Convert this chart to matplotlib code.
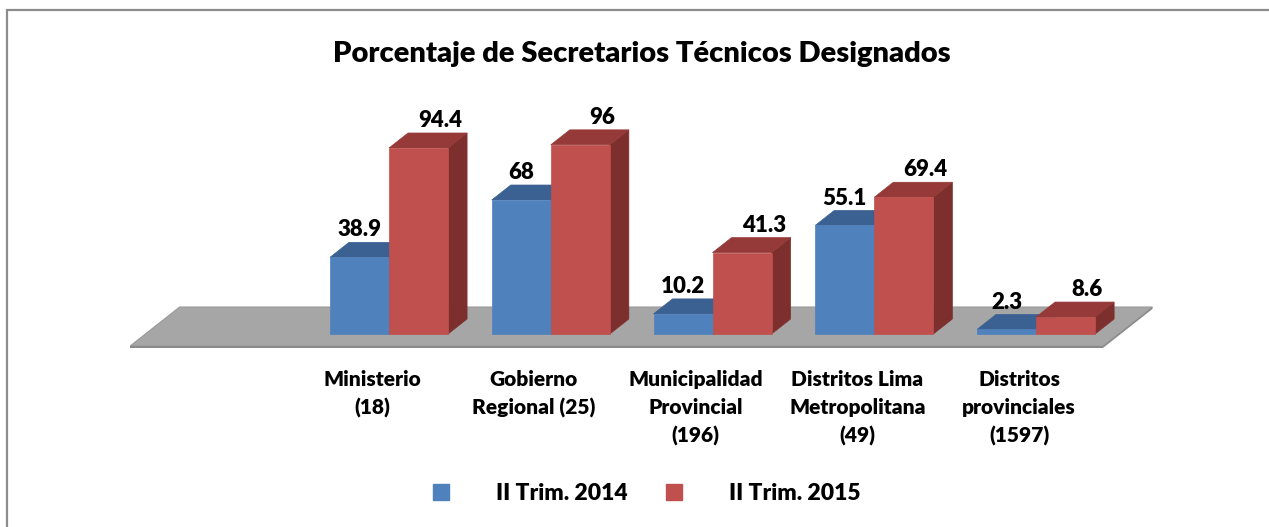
import matplotlib.pyplot as plt
from matplotlib.patches import Polygon, Rectangle
from matplotlib.lines import Line2D

# Data
categories = ["Ministerio\n(18)", "Gobierno\nRegional (25)", "Municipalidad\nProvincial\n(196)",
              "Distritos Lima\nMetropolitana\n(49)", "Distritos\nprovinciales\n(1597)"]
trim_2014 = [38.9, 68, 10.2, 55.1, 2.3]
trim_2015 = [94.4, 96, 41.3, 69.4, 8.6]
series_names = ["II Trim. 2014", "II Trim. 2015"]

plt.rcParams['font.family'] = ['Lato', 'DejaVu Sans']
WEIGHT = 'heavy'

# face colours: front, top, side
blue = ('#4f81bd', '#3b6192', '#33557f')
red = ('#c0504d', '#953a38', '#7c2f2d')

bar_w = 0.365
dx, dy = 0.1175, 7.6   # oblique depth offset (data units)

fig = plt.figure(figsize=(12.69, 5.27), dpi=100)
ax = fig.add_axes([0, 0, 1, 1])
ax.set_xlim(-2.405, 5.440)
ax.set_ylim(-97.97, 169.5)
ax.axis('off')

# chart border (runs off the right and bottom edges)
fig.patches.append(Rectangle((7 / 1269, -0.2), 1.2, 1 - 10 / 527 + 0.2, transform=fig.transFigure,
                             fill=False, edgecolor='#8c8c8c', linewidth=1.6))

# floor
zf, zb = -0.8, 1.8
fx0, fx1 = -1.506, 4.508
floor = [(fx0 + zf * dx, zf * dy), (fx1 + zf * dx, zf * dy),
         (fx1 + zb * dx, zb * dy), (fx0 + zb * dx, zb * dy)]
ax.add_patch(Polygon(floor, closed=True, facecolor='#a6a6a6', edgecolor='#9a9a9a', lw=0.8, zorder=1))
ax.add_patch(Polygon([(fx0 + zf * dx, zf * dy), (fx1 + zf * dx, zf * dy),
                      (fx1 + zf * dx, zf * dy - 1.0), (fx0 + zf * dx, zf * dy - 1.0)],
                     closed=True, facecolor='#8a8a8a', edgecolor='none', zorder=1))
ax.add_patch(Polygon([(fx1 + zf * dx, zf * dy), (fx1 + zb * dx, zb * dy),
                      (fx1 + zb * dx, zb * dy - 1.0), (fx1 + zf * dx, zf * dy - 1.0)],
                     closed=True, facecolor='#8a8a8a', edgecolor='none', zorder=1))


def bar3d(x0, v, cols, z):
    x1 = x0 + bar_w
    side = [(x1, 0), (x1 + dx, dy), (x1 + dx, v + dy), (x1, v)]
    top = [(x0, v), (x1, v), (x1 + dx, v + dy), (x0 + dx, v + dy)]
    ax.add_patch(Polygon(side, closed=True, facecolor=cols[2], edgecolor=cols[2], lw=0.5, zorder=z))
    ax.add_patch(Polygon(top, closed=True, facecolor=cols[1], edgecolor=cols[1], lw=0.5, zorder=z))
    ax.add_patch(Rectangle((x0, 0), bar_w, v, facecolor=cols[0], edgecolor=cols[0], lw=0.5, zorder=z + 0.5))


lab_font = dict(fontsize=16, fontweight=WEIGHT, color='black')
for i, (a, b) in enumerate(zip(trim_2014, trim_2015)):
    bar3d(i - bar_w, a, blue, 2 + i * 2)
    bar3d(i, b, red, 3 + i * 2)
    ax.text(i - bar_w / 2, a + dy + 3, f"{a:g}", ha='center', va='baseline', zorder=20, **lab_font)
    ax.text(i + bar_w / 2 + 0.135, b + dy + 3, f"{b:g}", ha='center', va='baseline', zorder=20, **lab_font)
    ax.text(i - 0.105, -18.2, categories[i], ha='center', va='top', fontsize=15,
            fontweight=WEIGHT, linespacing=1.55)

fig.text(0.506, 1 - 62 / 527, "Porcentaje de Secretarios Técnicos Designados", ha='center',
         va='baseline', fontsize=21, fontweight=WEIGHT)

handles = [Line2D([], [], marker='s', ls='', ms=11, color=blue[0]),
           Line2D([], [], marker='s', ls='', ms=11, color=red[0])]
fig.legend(handles, series_names, loc='center', bbox_to_anchor=(645 / 1269, 1 - 494 / 527), ncol=2,
           frameon=False, handlelength=1.0, handletextpad=1.9, columnspacing=1.5,
           prop=dict(size=16.5, weight=WEIGHT))

fig.savefig('out.png', dpi=100)
